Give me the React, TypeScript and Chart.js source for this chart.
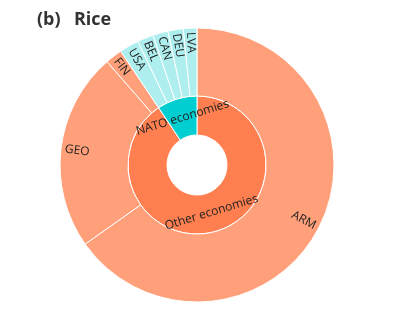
import React, { useEffect, useRef } from "react";
import { Chart, registerables } from "chart.js";

Chart.register(...registerables);

const outerLabels = ["ARM", "GEO", "FIN", "USA", "BEL", "CAN", "DEU", "LVA"];
const outerValues = [65.2, 23.4, 2.0, 2.3, 1.9, 1.8, 1.8, 1.6];
const outerColors = [
  "#FFA07A", "#FFA07A", "#FFA07A",
  "#AFEEEE", "#AFEEEE", "#AFEEEE", "#AFEEEE", "#AFEEEE",
];
const innerLabels = ["Other economies", "NATO economies"];
const innerValues = [90.6, 9.4];
const innerColors = ["#FF7F50", "#00CED1"];

const titleText = "(b)  Rice";
const labelFont = "12px 'Open Sans', 'Noto Sans', sans-serif";
const labelColor = "#222";

const labelPlugin = {
  id: "sunLabels",
  afterDatasetsDraw(chart: any) {
    const ctx = chart.ctx;
    ctx.save();
    ctx.font = labelFont;
    ctx.fillStyle = labelColor;
    ctx.textBaseline = "middle";
    const outerMeta = chart.getDatasetMeta(0);
    outerMeta.data.forEach((arc: any, i: number) => {
      const a = (arc.startAngle + arc.endAngle) / 2;
      const r = arc.outerRadius - 4;
      const x = arc.x + Math.cos(a) * r;
      const y = arc.y + Math.sin(a) * r;
      ctx.save();
      ctx.translate(x, y);
      if (Math.cos(a) >= 0) {
        ctx.rotate(a);
        ctx.textAlign = "right";
      } else {
        ctx.rotate(a + Math.PI);
        ctx.textAlign = "left";
      }
      ctx.fillText(outerLabels[i], 0, 0);
      ctx.restore();
    });
    const innerMeta = chart.getDatasetMeta(1);
    innerMeta.data.forEach((arc: any, i: number) => {
      const a = (arc.startAngle + arc.endAngle) / 2;
      const r = (arc.outerRadius + arc.innerRadius) / 2;
      const x = arc.x + Math.cos(a) * r;
      const y = arc.y + Math.sin(a) * r;
      let rot = a + Math.PI / 2;
      while (rot > Math.PI) rot -= 2 * Math.PI;
      while (rot < -Math.PI) rot += 2 * Math.PI;
      if (rot > Math.PI / 2) rot -= Math.PI;
      if (rot < -Math.PI / 2) rot += Math.PI;
      ctx.save();
      ctx.translate(x, y);
      ctx.rotate(rot);
      ctx.textAlign = "center";
      ctx.fillText(innerLabels[i], 0, 0);
      ctx.restore();
    });
    ctx.restore();
  },
};

export default function App() {
  const ref = useRef<HTMLCanvasElement>(null);
  useEffect(() => {
    if (!ref.current) return;
    const chart = new Chart(ref.current, {
      type: "doughnut",
      data: {
        labels: outerLabels,
        datasets: [
          {
            data: outerValues,
            backgroundColor: outerColors,
            borderColor: "#ffffff",
            borderWidth: 1,
            weight: 68,
          } as any,
          {
            data: innerValues,
            backgroundColor: innerColors,
            borderColor: "#ffffff",
            borderWidth: 1,
            weight: 39,
          } as any,
        ],
      },
      options: {
        responsive: false,
        animation: false,
        devicePixelRatio: 1,
        radius: 137,
        cutout: "21.9%",
        layout: { padding: { top: 0, bottom: 1, left: 0, right: 0 } },
        plugins: {
          legend: { display: false },
          tooltip: { enabled: false },
          title: { display: false },
        },
      } as any,
      plugins: [labelPlugin],
    });
    return () => chart.destroy();
  }, []);

  return (
    <div style={{ position: "fixed", left: 0, top: 0, width: 394, height: 331, background: "#fff" }}>
      <canvas ref={ref} width={394} height={331} style={{ position: "absolute", left: 0, top: 0 }} />
      <div
        style={{
          position: "absolute",
          left: 37,
          top: 7,
          fontFamily: "'Open Sans', 'Noto Sans', sans-serif",
          fontWeight: 700,
          fontSize: 18,
          lineHeight: "22px",
          color: "#333",
          whiteSpace: "pre",
          wordSpacing: 2,
        }}
      >
        {titleText}
      </div>
    </div>
  );
}
